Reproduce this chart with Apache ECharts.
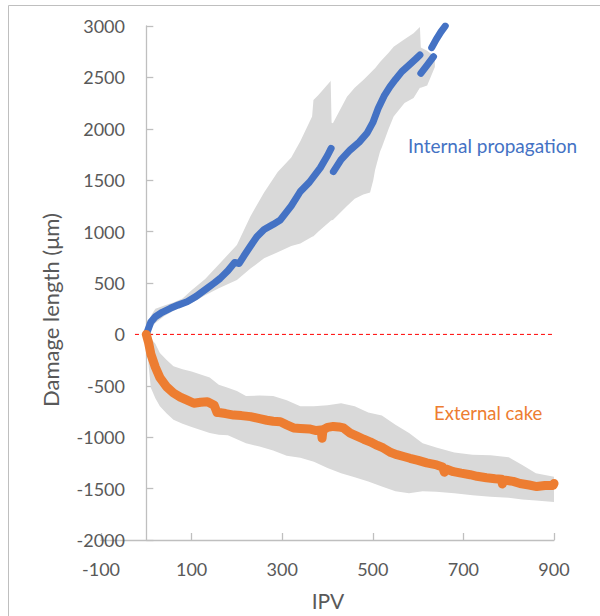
<!DOCTYPE html>
<html>
<head>
<meta charset="utf-8">
<script src="https://cdn.jsdelivr.net/npm/echarts@6/dist/echarts.min.js"></script>
<style>html,body{margin:0;padding:0;background:#fff}#chart{width:600px;height:616px}</style>
</head>
<body>
<div id="chart"></div>
<script>
// ---- data ----
const xTicks = [-100, 100, 300, 500, 700, 900];
const yMin = -2000, yMax = 3000, yStep = 500;

// Internal propagation (blue), null = gap
const blueX = [0,5,10,20,35,53,70,90,110,134,150,163,180,195,205,215,230,244,260,280,296,320,340,360,384,400,408,410,413,430,450,470,487,500,512,525,538,550,564,580,595,604,605,606,620,634,635,630,640,650,660];
const blueY = [0,60,120,172,215,254,285,318,370,448,500,545,620,700,690,760,860,950,1020,1070,1113,1250,1390,1480,1620,1740,1810,null,1583,1700,1794,1870,1956,2060,2199,2320,2410,2480,2556,2620,2680,2718,null,2540,2620,2701,null,2790,2870,2940,3000];

// Band around internal propagation
const bandBX  = [0,10,20,40,60,80,100,130,160,200,230,260,290,320,340,366,369,380,406,407,409,412,443,460,479,494,501,505,516,520,535,546,570,590,604,606,620,637];
const bandBHi = [0,180,250,280,310,350,430,540,680,870,1150,1380,1580,1720,1880,2120,2280,2330,2460,2470,2060,2053,2312,2400,2475,2540,2572,2590,2650,2670,2740,2799,2870,2929,2990,2790,2760,2700];
const bandBLo = [0,60,110,180,230,270,305,380,450,530,640,740,800,860,885,950,955,1000,1100,1105,1110,1113,1250,1320,1360,1380,1500,1600,1780,1820,2000,2120,2250,2300,2400,2400,2420,2600];

// External cake (orange)
const orangeX = [0,5,10,20,30,45,60,75,90,105,120,135,150,156,160,175,193,210,230,250,266,280,296,310,325,340,360,375,386,388,390,400,413,425,435,450,465,480,494,510,523,540,553,570,582,600,619,630,641,654,658,662,678,695,715,730,751,770,784,786,788,810,825,845,862,880,898,900];
const orangeY = [0,-80,-190,-320,-420,-510,-570,-610,-640,-670,-660,-655,-690,-760,-760,-770,-785,-790,-800,-820,-835,-845,-850,-880,-910,-915,-920,-935,-930,-1010,-930,-905,-895,-900,-910,-960,-990,-1020,-1045,-1080,-1105,-1150,-1170,-1190,-1205,-1225,-1250,-1260,-1270,-1290,-1340,-1310,-1335,-1350,-1365,-1380,-1395,-1405,-1410,-1455,-1415,-1430,-1450,-1465,-1480,-1470,-1470,-1450];

// Band around external cake
const bandOX  = [0,5,10,20,30,45,60,80,100,120,140,160,180,200,220,250,280,310,340,370,400,430,460,490,520,550,580,610,640,680,720,760,800,830,860,900];
const bandOHi = [0,-20,-40,-90,-180,-250,-310,-340,-360,-390,-420,-490,-520,-550,-600,-595,-600,-640,-700,-700,-690,-670,-700,-760,-790,-880,-960,-1060,-1100,-1150,-1170,-1175,-1195,-1270,-1350,-1385];
const bandOLo = [0,-300,-520,-620,-700,-770,-830,-870,-900,-930,-960,-975,-980,-1020,-1060,-1090,-1130,-1180,-1200,-1240,-1300,-1350,-1390,-1430,-1480,-1525,-1545,-1525,-1530,-1545,-1565,-1580,-1590,-1605,-1615,-1630];

const refLineX = [-25, 900];
const refLineY = [0, 0];

// ---- chart ----
const FONT = 'Lato';
const chart = echarts.init(document.getElementById('chart'), null, {renderer: 'svg'});

function zip(xs, ys) { return xs.map((x, i) => [x, ys[i]]); }
function bandData(xs, lo, hi) { return xs.map((x, i) => [x, lo[i], hi[i]]); }
function bandRender(xs, lo, hi) {
  return function (params, api) {
    if (params.dataIndex !== 0) return null;
    const pts = [];
    for (let i = 0; i < xs.length; i++) pts.push(api.coord([xs[i], hi[i]]));
    for (let i = xs.length - 1; i >= 0; i--) pts.push(api.coord([xs[i], lo[i]]));
    return {type: 'polygon', shape: {points: pts}, style: {fill: '#D9D9D9'}};
  };
}

const option = {
  animation: false,
  backgroundColor: '#fff',
  grid: {left: 101, right: 46, top: 26, bottom: 76, containLabel: false},
  xAxis: {
    type: 'value', min: -100, max: 900,
    axisLine: {onZero: false, lineStyle: {color: '#BFBFBF', width: 1.3}},
    axisTick: {show: true, inside: true, length: 7, customValues: xTicks, lineStyle: {color: '#BFBFBF', width: 1.3}},
    axisLabel: {customValues: xTicks, color: '#595959', fontFamily: FONT, fontSize: 18, margin: 20, formatter: v => String(v)},
    splitLine: {show: false}
  },
  yAxis: {
    type: 'value', min: yMin, max: yMax, interval: yStep,
    axisLine: {show: true, onZero: true, lineStyle: {color: '#BFBFBF', width: 1.3}},
    axisTick: {show: true, inside: true, length: 7, lineStyle: {color: '#BFBFBF', width: 1.3}},
    axisLabel: {color: '#595959', fontFamily: FONT, fontSize: 18, margin: -24, formatter: v => String(v)},
    splitLine: {show: false}
  },
  graphic: [
    {type: 'rect', shape: {x: 8.5, y: 5.5, width: 700, height: 700}, style: {fill: 'none', stroke: '#BFBFBF', lineWidth: 1}, z: -10, silent: true},
    {type: 'text', x: 50, y: 310, rotation: Math.PI / 2, style: {text: 'Damage length (μm)', fill: '#595959', font: '22px ' + FONT, textAlign: 'center', textVerticalAlign: 'middle'}},
    {type: 'text', x: 328, y: 600, style: {text: 'IPV', fill: '#595959', font: '21px ' + FONT, textAlign: 'center', textVerticalAlign: 'middle'}},
    {type: 'text', x: 408, y: 145, style: {text: 'Internal propagation', fill: '#4472C4', font: '19px ' + FONT, textAlign: 'left', textVerticalAlign: 'middle'}},
    {type: 'text', x: 434, y: 413, style: {text: 'External cake', fill: '#ED7D31', font: '18.5px ' + FONT, textAlign: 'left', textVerticalAlign: 'middle'}}
  ],
  series: [
    {type: 'custom', name: 'band-internal', data: bandData(bandBX, bandBLo, bandBHi), encode: {x: 0, y: [1, 2]}, renderItem: bandRender(bandBX, bandBLo, bandBHi), z: 1, silent: true},
    {type: 'custom', name: 'band-external', data: bandData(bandOX, bandOLo, bandOHi), encode: {x: 0, y: [1, 2]}, renderItem: bandRender(bandOX, bandOLo, bandOHi), z: 1, silent: true},
    {type: 'line', name: 'zero', data: zip(refLineX, refLineY), symbol: 'none', lineStyle: {color: '#FF0000', width: 1, type: [4, 3]}, z: 2, silent: true},
    {type: 'line', name: 'Internal propagation', data: zip(blueX, blueY), symbol: 'none', connectNulls: false,
      lineStyle: {color: '#4472C4', width: 7, cap: 'round', join: 'round'}, z: 3},
    {type: 'line', name: 'External cake', data: zip(orangeX, orangeY), symbol: 'none',
      lineStyle: {color: '#ED7D31', width: 9, cap: 'round', join: 'round'}, z: 3}
  ]
};
chart.setOption(option);
</script>
</body>
</html>
